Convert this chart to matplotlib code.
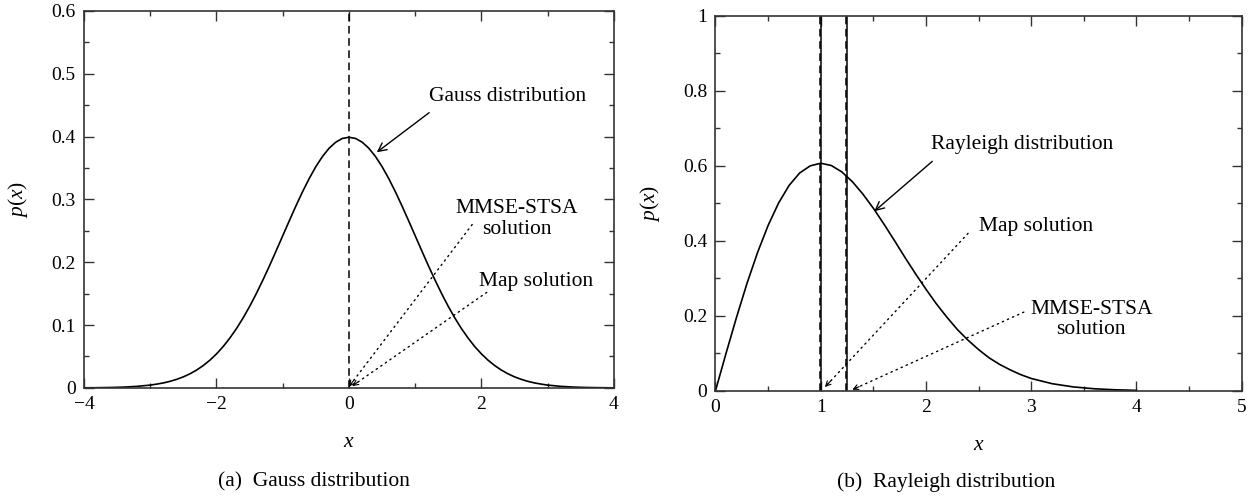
import matplotlib
matplotlib.use('Agg')
import matplotlib.pyplot as plt
from matplotlib.ticker import MultipleLocator, FuncFormatter

plt.rcParams['font.family'] = ['Liberation Serif', 'DejaVu Serif']
plt.rcParams['mathtext.fontset'] = 'custom'
plt.rcParams['mathtext.rm'] = 'Liberation Serif'
plt.rcParams['mathtext.it'] = 'Liberation Serif:italic'
plt.rcParams['axes.unicode_minus'] = True

# values
gauss_x = [-4.0, -3.8, -3.6, -3.4, -3.2, -3.0, -2.9, -2.8, -2.7, -2.6, -2.5, -2.4, -2.3, -2.2, -2.1,
           -2.0, -1.9, -1.8, -1.7, -1.6, -1.5, -1.4, -1.3, -1.2, -1.1, -1.0, -0.9, -0.8, -0.7,
           -0.6, -0.5, -0.4, -0.3, -0.2, -0.1, 0.0,
           0.1, 0.2, 0.3, 0.4, 0.5, 0.6, 0.7, 0.8, 0.9, 1.0, 1.1, 1.2, 1.3, 1.4, 1.5,
           1.6, 1.7, 1.8, 1.9, 2.0, 2.1, 2.2, 2.3, 2.4, 2.5, 2.6, 2.7, 2.8, 2.9, 3.0,
           3.2, 3.4, 3.6, 3.8, 4.0]
gauss_p = [0.0001, 0.0003, 0.0006, 0.0012, 0.0024, 0.0044, 0.0060, 0.0079, 0.0104, 0.0136, 0.0175,
           0.0224, 0.0283, 0.0355, 0.0440, 0.0540, 0.0656, 0.0790, 0.0940, 0.1109, 0.1295,
           0.1497, 0.1714, 0.1942, 0.2179, 0.2420, 0.2661, 0.2897, 0.3123, 0.3332, 0.3521,
           0.3683, 0.3814, 0.3910, 0.3970, 0.3989,
           0.3970, 0.3910, 0.3814, 0.3683, 0.3521, 0.3332, 0.3123, 0.2897, 0.2661, 0.2420,
           0.2179, 0.1942, 0.1714, 0.1497, 0.1295, 0.1109, 0.0940, 0.0790, 0.0656, 0.0540,
           0.0440, 0.0355, 0.0283, 0.0224, 0.0175, 0.0136, 0.0104, 0.0079, 0.0060, 0.0044,
           0.0024, 0.0012, 0.0006, 0.0003, 0.0001]

rayl_x = [0.0, 0.1, 0.2, 0.3, 0.4, 0.5, 0.6, 0.7, 0.8, 0.9, 1.0, 1.1, 1.2, 1.3, 1.4, 1.5,
          1.6, 1.7, 1.8, 1.9, 2.0, 2.1, 2.2, 2.3, 2.4, 2.5, 2.6, 2.7, 2.8, 2.9, 3.0,
          3.2, 3.4, 3.6, 3.8, 4.0]
rayl_p = [0.0, 0.0995, 0.196, 0.287, 0.369, 0.441, 0.501, 0.548, 0.581, 0.600, 0.607,
          0.601, 0.584, 0.558, 0.525, 0.487, 0.445, 0.401, 0.356, 0.3125, 0.271,
          0.2316, 0.196, 0.163, 0.135, 0.110, 0.088, 0.0705, 0.056, 0.0433, 0.033,
          0.019, 0.0105, 0.0055, 0.0028, 0.0013]

gauss_map = 0.0
gauss_mmse = 0.0
rayl_map = 1.0
rayl_mmse = 1.25

TICK_FS = 14
TEXT_FS = 15.5


def fmt(v, pos):
    s = '%g' % v
    return s.replace('-', '\u2212')


def style_axes(ax, xmaj, xmin, ymaj, ymin):
    ax.xaxis.set_major_locator(MultipleLocator(xmaj))
    ax.xaxis.set_minor_locator(MultipleLocator(xmin))
    ax.yaxis.set_major_locator(MultipleLocator(ymaj))
    ax.yaxis.set_minor_locator(MultipleLocator(ymin))
    ax.xaxis.set_major_formatter(FuncFormatter(fmt))
    ax.yaxis.set_major_formatter(FuncFormatter(fmt))
    ax.tick_params(which='both', direction='in', top=True, right=True,
                   labelsize=TICK_FS, width=1.0, color='#333333')
    ax.tick_params(which='major', length=7.5, pad=6)
    ax.tick_params(which='minor', length=3.5)
    for s in ax.spines.values():
        s.set_linewidth(1.2)
        s.set_color('#333333')
    ax.set_xlabel('$x$', fontsize=TEXT_FS, labelpad=14)
    ax.set_ylabel('$p(x)$', fontsize=TEXT_FS, labelpad=15)


def dotted_arrow(ax, end, start):
    # dotted shaft plus a small solid head
    ax.annotate('', xy=end, xytext=start,
                arrowprops=dict(arrowstyle='-', color='black', lw=1.0, ls=(0, (1, 3)),
                                shrinkA=0, shrinkB=0))
    near = (end[0] + 0.04 * (start[0] - end[0]), end[1] + 0.04 * (start[1] - end[1]))
    ax.annotate('', xy=end, xytext=near,
                arrowprops=dict(arrowstyle='->', color='black', lw=0.8,
                                shrinkA=0, shrinkB=0, mutation_scale=9))


fig = plt.figure(figsize=(12.53, 4.96), dpi=100)
ax1 = fig.add_axes([0.067, 0.218, 0.423, 0.760])
ax2 = fig.add_axes([0.571, 0.212, 0.420, 0.756])

arr = dict(arrowstyle='->', color='black', lw=1.0, shrinkA=0, shrinkB=0,
           mutation_scale=15)

# (a) Gauss
ax1.plot(gauss_x, gauss_p, color='black', lw=1.2)
ax1.axvline(gauss_map, color='black', lw=1.1, ls=(0, (5, 3)))
ax1.set_xlim(-4, 4)
ax1.set_ylim(0, 0.6)
style_axes(ax1, 2, 1, 0.1, 0.05)

ax1.annotate('', xy=(0.42, 0.375), xytext=(1.21, 0.438), arrowprops=arr)
ax1.text(2.4, 0.463, 'Gauss distribution', fontsize=TEXT_FS, ha='center', va='center')
dotted_arrow(ax1, (gauss_mmse, 0.002), (1.86, 0.26))
ax1.text(2.53, 0.269, 'MMSE-STSA\nsolution', fontsize=TEXT_FS, ha='center', va='center',
         linespacing=1.1)
dotted_arrow(ax1, (gauss_map + 0.05, 0.003), (2.08, 0.152))
ax1.text(2.82, 0.169, 'Map solution', fontsize=TEXT_FS, ha='center', va='center')

# (b) Rayleigh
ax2.plot(rayl_x, rayl_p, color='black', lw=1.2)
for v in (rayl_map, rayl_mmse):
    ax2.axvline(v - 0.01, color='black', lw=1.1, ls=(0, (5, 3)))
    ax2.axvline(v, color='black', lw=1.1)
ax2.set_xlim(0, 5)
ax2.set_ylim(0, 1)
style_axes(ax2, 1, 0.5, 0.2, 0.1)

ax2.annotate('', xy=(1.51, 0.479), xytext=(2.06, 0.612), arrowprops=arr)
ax2.text(2.91, 0.656, 'Rayleigh distribution', fontsize=TEXT_FS, ha='center', va='center')
dotted_arrow(ax2, (rayl_map + 0.04, 0.01), (2.4, 0.42))
ax2.text(3.05, 0.437, 'Map solution', fontsize=TEXT_FS, ha='center', va='center')
dotted_arrow(ax2, (rayl_mmse + 0.05, 0.003), (2.93, 0.21))
ax2.text(3.57, 0.191, 'MMSE-STSA\nsolution', fontsize=TEXT_FS, ha='center', va='center',
         linespacing=1.1)

fig.text(314 / 1253, 1 - 482 / 496, '(a)  Gauss distribution', fontsize=TEXT_FS,
         ha='center', va='center')
fig.text(946 / 1253, 1 - 482 / 496, '(b)  Rayleigh distribution', fontsize=TEXT_FS,
         ha='center', va='center')

fig.savefig('out.png', dpi=100)
